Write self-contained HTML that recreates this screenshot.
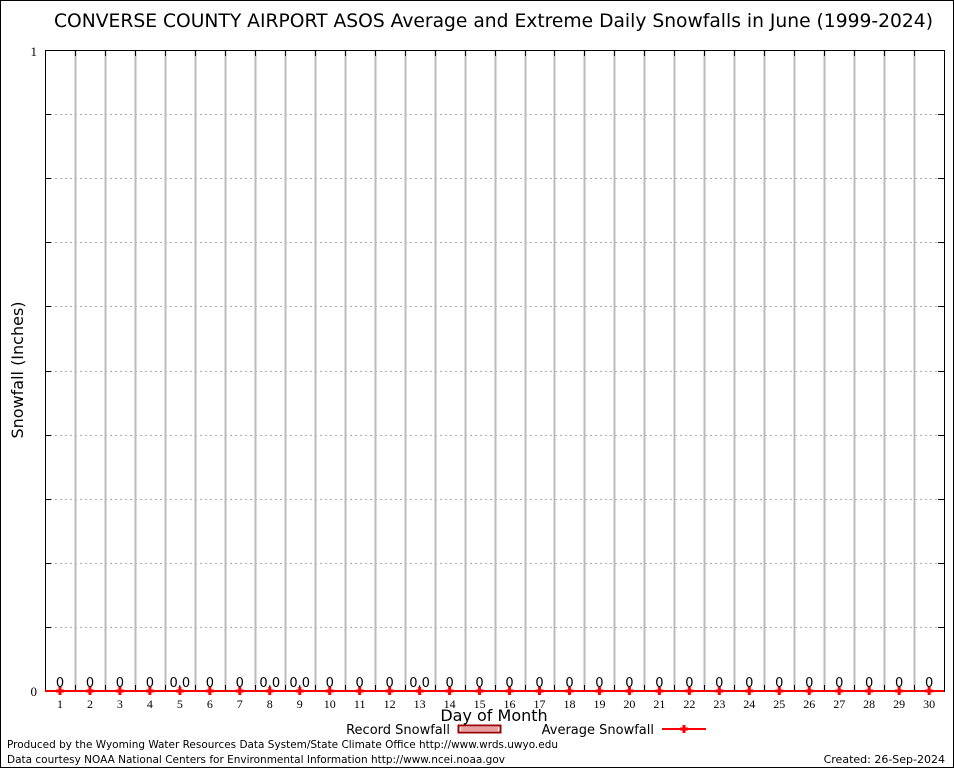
<!DOCTYPE html>
<html><head><meta charset="utf-8"><style>
html,body{margin:0;padding:0;background:#fff;width:954px;height:768px;overflow:hidden}
svg{display:block}
text{font-family:"DejaVu Sans","Liberation Sans",sans-serif}
.s{font-family:"Liberation Serif",serif}
</style></head><body>
<svg id="c" width="954" height="768" viewBox="0 0 954 768" xmlns="http://www.w3.org/2000/svg">
<rect x="0.5" y="0.5" width="953" height="767" fill="#fff" stroke="#000"/>
<text x="54" y="27" font-size="19" textLength="879" lengthAdjust="spacingAndGlyphs">CONVERSE COUNTY AIRPORT ASOS Average and Extreme Daily Snowfalls in June (1999-2024)</text>
<g id="grid"></g>
<rect x="45.5" y="50.5" width="899" height="641" fill="none" stroke="#000"/>
<text class="s" x="37" y="56" font-size="13" text-anchor="end">1</text>
<text class="s" x="37" y="696" font-size="13" text-anchor="end">0</text>
<text x="23" y="370" font-size="16" text-anchor="middle" transform="rotate(-90 23 370)">Snowfall (Inches)</text>
<line x1="45" y1="691" x2="944" y2="691" stroke="#f00" stroke-width="2"/>
<g id="pts"></g>
<text x="494" y="721" font-size="16" text-anchor="middle">Day of Month</text>
<text x="450" y="734" font-size="13" text-anchor="end">Record Snowfall</text>
<rect x="458.5" y="725.5" width="42" height="7" fill="#fff" stroke="#a00000" stroke-width="2"/>
<rect x="461" y="727" width="37" height="4" fill="#e8a0a0"/>
<text x="654" y="734" font-size="13" text-anchor="end">Average Snowfall</text>
<line x1="662" y1="729" x2="706" y2="729" stroke="#f00" stroke-width="2"/>
<path d="M680 729h8M684 725v8" stroke="#f00" stroke-width="3"/>
<text x="7" y="748" font-size="11" textLength="551" lengthAdjust="spacingAndGlyphs">Produced by the Wyoming Water Resources Data System/State Climate Office http://www.wrds.uwyo.edu</text>
<text x="7" y="763" font-size="11" textLength="498" lengthAdjust="spacingAndGlyphs">Data courtesy NOAA National Centers for Environmental Information http://www.ncei.noaa.gov</text>
<text x="945" y="763" font-size="11" text-anchor="end">Created:  26-Sep-2024</text>
</svg>
<script>
var ns="http://www.w3.org/2000/svg",g=document.getElementById('grid'),p=document.getElementById('pts');
function el(par,t,a,txt){var e=document.createElementNS(ns,t);for(var k in a)e.setAttribute(k,a[k]);if(txt!=null)e.textContent=txt;par.appendChild(e);}
for(var i=1;i<10;i++){var y=Math.round(50+64.1*i)+0.5;el(g,'line',{x1:45,x2:944,y1:y,y2:y,stroke:'#aaa','stroke-dasharray':'2,3'});el(g,'line',{x1:45,x2:51,y1:y,y2:y,stroke:'#000'});el(g,'line',{x1:938,x2:944,y1:y,y2:y,stroke:'#000'});}
var dz={5:1,8:1,9:1,13:1};
for(var d=1;d<=30;d++){var x=45+29.97*(d-0.5);
if(d<30){var vx=Math.round(45+29.97*d)+0.5;el(g,'line',{x1:vx,x2:vx,y1:50,y2:691,stroke:'#bbb','stroke-width':2});el(g,'line',{x1:vx,x2:vx,y1:50,y2:56,stroke:'#000'});el(g,'line',{x1:vx,x2:vx,y1:685,y2:691,stroke:'#000'});}
el(p,'path',{d:'M'+(x-4)+' 691h8M'+x+' 687v8',stroke:'#f00','stroke-width':3});
el(p,'text',{x:x,y:687,'font-size':13,'text-anchor':'middle','font-family':'Liberation Sans, sans-serif'},dz[d]?'0.0':'0');
el(p,'text',{x:x,y:708,'font-size':12,'text-anchor':'middle','class':'s'},String(d));}
</script>
</body></html>
